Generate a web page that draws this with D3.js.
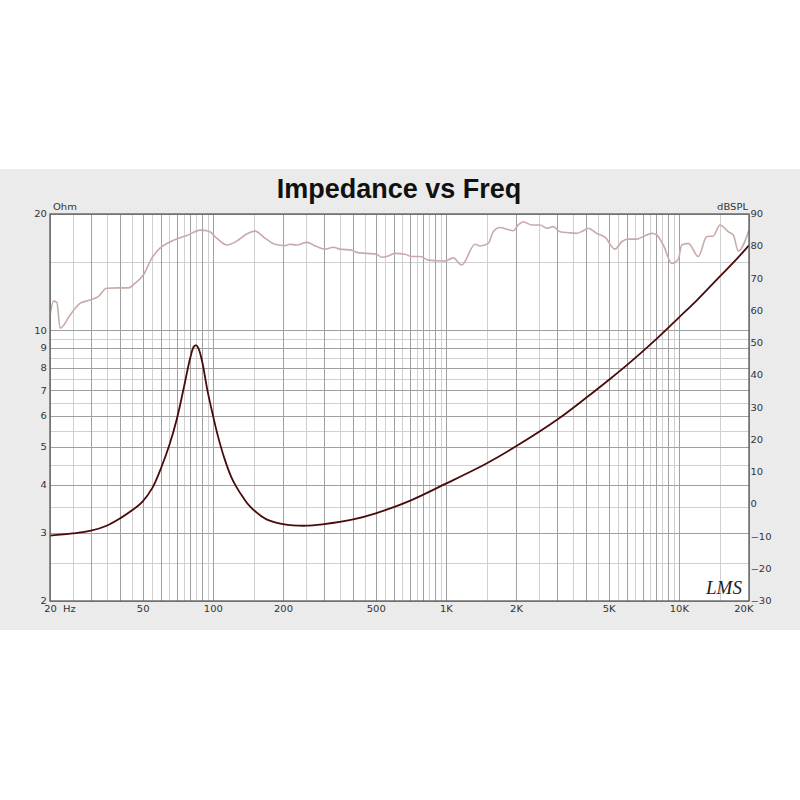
<!DOCTYPE html>
<html><head><meta charset="utf-8">
<script src="https://cdn.jsdelivr.net/npm/d3@7"></script>
<style>body{margin:0;background:#fff;}</style>
</head><body>
<svg id="c" width="800" height="800"></svg>
<script>
// ---- data ----
const impFreq = [20,25,30,35,40,45,50,55,60,65,70,75,80,83,85,87,90,95,100,105,112,120,126,135,145,170,200,250,300,400,500,700,1000,1500,2000,3000,4000,5000,6000,8000,10000,12000,15000,17000,20000];
const impOhm  = [2.95,2.99,3.04,3.13,3.27,3.43,3.62,3.92,4.42,5.05,5.9,7.1,8.5,9.1,9.15,8.95,8.3,6.95,6.05,5.35,4.68,4.18,3.95,3.7,3.5,3.25,3.16,3.13,3.16,3.25,3.37,3.63,4.02,4.54,5.02,5.88,6.7,7.45,8.15,9.5,10.8,12.0,13.8,14.9,16.6];

const splFreq = [20,20.7,21.4,22.1,24.4,26.9,29.7,32.2,35,39.3,43.4,46.3,50.3,54.7,59.3,64.4,71.1,78.4,88.1,95.6,103.9,114.7,126.6,137.4,151.7,167.4,184.8,204,214,229,253,279,303,329,351,394,414,457,505,530,566,605,668,714,775,841,913,991,1076,1170,1334,1401,1521,1598,1707,1825,1947,2046,2150,2336,2536,2710,2892,3090,3354,3645,3890,4086,4440,4820,5320,5684,6068,6592,7038,7646,8034,8576,9318,9944,10284,10978,12120,13170,14056,15014,16302,17126,17996,20000];
const splDb   = [58.5,63.0,62.6,54.6,58.7,62.3,63.3,64.4,67.0,67.1,67.1,68.5,71.1,76.3,79.4,81.1,82.5,83.5,85.0,84.7,82.5,80.4,81.6,83.5,84.7,82.5,80.6,80.2,80.6,80.4,81.2,79.9,79.1,79.7,79.1,78.8,78.1,77.8,77.5,76.6,77.0,77.8,77.5,76.8,76.8,75.7,75.5,75.4,76.4,74.2,80.6,80.1,80.9,84.5,85.8,85.3,84.8,86.6,87.6,86.6,86.6,85.6,86.1,84.5,84.2,84.0,84.8,85.6,84.0,82.8,79.1,81.4,82.2,82.2,83.0,84.0,83.5,80.4,74.7,76.0,80.4,80.9,76.8,83.0,83.2,86.6,84.5,83.5,78.5,85.0];

const freqTickValues = [20,50,100,200,500,1000,2000,5000,10000,20000];
const freqTickLabels = ["20","50","100","200","500","1K","2K","5K","10K","20K"];
const ohmTickValues  = [2,3,4,5,6,7,8,9,10,20];
const dbTickValues   = [-30,-20,-10,0,10,20,30,40,50,60,70,80,90];

// ---- layout ----
const W = 800, H = 800;
const M = {left:50, right:749, top:214, bottom:601};
const svg = d3.select("#c");

svg.append("rect").attr("x",0).attr("y",169).attr("width",W).attr("height",461).attr("fill","#ebebeb");
svg.append("rect").attr("x",M.left).attr("y",M.top).attr("width",M.right-M.left).attr("height",M.bottom-M.top).attr("fill","#fff");

const x  = d3.scaleLog().domain([20,20000]).range([M.left, M.right]);
const yL = d3.scaleLog().domain([2,20]).range([M.bottom, M.top]);
const yR = d3.scaleLinear().domain([-30,90]).range([M.bottom, M.top]);

function gridVals(lo, hi){
  const m = new Map();
  for (let d = 1; d <= 1e5; d *= 10)
    for (let k = 2; k <= 20; k++) {
      const v = k*d/2;
      if (v >= lo && v <= hi && !m.has(v)) m.set(v, k%2===0);
    }
  return Array.from(m, ([v,major]) => ({v,major}));
}
const xg = gridVals(20,20000), yg = gridVals(2,20);

function gridX(vals, color){
  const g = svg.append("g").attr("transform",`translate(0,${M.bottom})`)
    .call(d3.axisBottom(x).tickValues(vals).tickSize(-(M.bottom-M.top)).tickFormat(""));
  g.select(".domain").remove();
  g.selectAll("line").attr("stroke",color).attr("shape-rendering","crispEdges");
}
function gridY(vals, color){
  const g = svg.append("g").attr("transform",`translate(${M.left},0)`)
    .call(d3.axisLeft(yL).tickValues(vals).tickSize(-(M.right-M.left)).tickFormat(""));
  g.select(".domain").remove();
  g.selectAll("line").attr("stroke",color).attr("shape-rendering","crispEdges");
}
gridX(xg.filter(d=>!d.major).map(d=>d.v), "#d0d0d0");
gridY(yg.filter(d=>!d.major).map(d=>d.v), "#d0d0d0");
gridX(xg.filter(d=>d.major).map(d=>d.v), "#a0a0a0");
gridY(yg.filter(d=>d.major).map(d=>d.v), "#a0a0a0");

// curves
svg.append("clipPath").attr("id","pc").append("rect")
  .attr("x",M.left).attr("y",M.top).attr("width",M.right-M.left).attr("height",M.bottom-M.top);

const splLine = d3.line().x(d=>x(d[0])).y(d=>yR(d[1])).curve(d3.curveMonotoneX);
svg.append("path").datum(d3.zip(splFreq, splDb)).attr("d",splLine)
  .attr("fill","none").attr("stroke","#c9aaaa").attr("stroke-width",1.6).attr("clip-path","url(#pc)");

const impLine = d3.line().x(d=>x(d[0])).y(d=>yL(d[1])).curve(d3.curveCatmullRom.alpha(0.5));
svg.append("path").datum(d3.zip(impFreq, impOhm)).attr("d",impLine)
  .attr("fill","none").attr("stroke","#4a0a0a").attr("stroke-width",1.8).attr("clip-path","url(#pc)");

// frame
svg.append("rect").attr("x",M.left).attr("y",M.top).attr("width",M.right-M.left).attr("height",M.bottom-M.top)
  .attr("fill","none").attr("stroke","#5a5a5a").attr("stroke-width",1.3);

// axis labels
const FONT = "DejaVu Sans";
function styleTicks(g){
  g.select(".domain").remove();
  g.attr("font-family",FONT).attr("font-size",8);
  g.selectAll("text").attr("fill","#333").attr("transform","scale(1.25,1)");
}
const ax = svg.append("g").attr("transform",`translate(0,${M.bottom})`)
  .call(d3.axisBottom(x).tickValues(freqTickValues).tickFormat((d,i)=>freqTickLabels[i]).tickSize(0).tickPadding(5));
styleTicks(ax);
ax.selectAll("text").filter(d=>d===20000).attr("dx",-4.5);

const al = svg.append("g").attr("transform",`translate(${M.left},0)`)
  .call(d3.axisLeft(yL).tickValues(ohmTickValues).tickFormat(d3.format("d")).tickSize(0).tickPadding(2.5));
styleTicks(al);

const ar = svg.append("g").attr("transform",`translate(${M.right},0)`)
  .call(d3.axisRight(yR).tickValues(dbTickValues).tickFormat(d3.format("d")).tickSize(0).tickPadding(1.2));
styleTicks(ar);

function label(t, px, py, anchor){
  svg.append("text").attr("transform",`translate(${px},${py}) scale(1.25,1)`)
    .attr("text-anchor",anchor).attr("font-family",FONT).attr("font-size",8).attr("fill","#333").text(t);
}
label("Hz", 63, 611.5, "start");
label("Ohm", 53, 210, "start");
label("dBSPL", 748, 210, "end");

// title
svg.append("text").attr("x",399).attr("y",198).attr("text-anchor","middle")
  .attr("font-family","Liberation Sans, Arial, sans-serif").attr("font-weight","bold")
  .attr("font-size",27).attr("fill","#111").text("Impedance vs Freq");

// LMS mark
svg.append("text").attr("x",706).attr("y",594).attr("font-family","Liberation Serif, serif")
  .attr("font-style","italic").attr("font-size",19).attr("fill","#222").text("LMS");
</script>
</body></html>
